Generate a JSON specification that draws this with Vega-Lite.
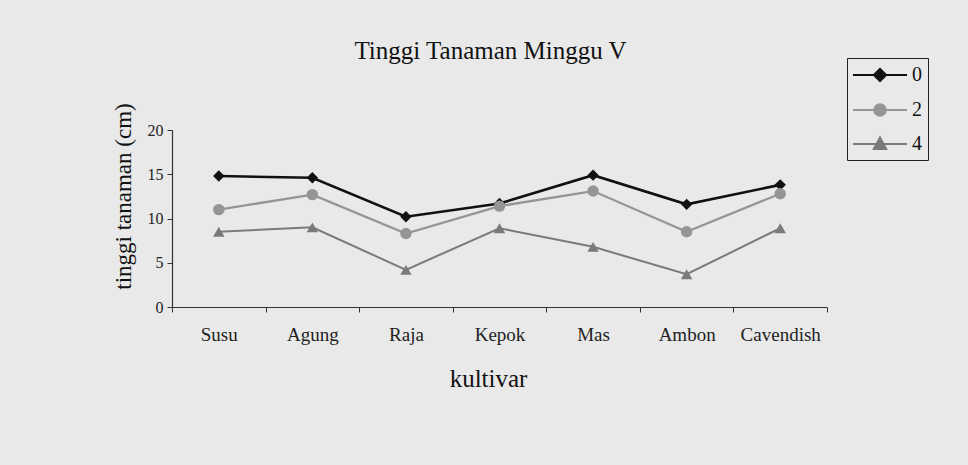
{
  "$schema": "https://vega.github.io/schema/vega-lite/v6.json",
  "autosize": {"type": "none"},
  "width": 655,
  "height": 177,
  "padding": {"left": 172, "top": 130, "right": 141, "bottom": 158},
  "background": "#e9e9e9",
  "config": {
    "view": {"stroke": null},
    "font": "Liberation Serif",
    "axis": {"labelFont": "Liberation Serif", "titleFont": "Liberation Serif", "labelColor": "#222", "titleColor": "#111", "domainColor": "#333", "tickColor": "#333", "grid": false, "titleFontWeight": "normal"}
  },
  "title": {"text": "Tinggi Tanaman Minggu V", "font": "Liberation Serif", "fontSize": 25, "fontWeight": "normal", "color": "#111", "offset": -6, "anchor": "middle", "dx": -9},
  "data": {"values": [
    {"kultivar": "Susu", "series": "0", "value": 14.8},
    {"kultivar": "Agung", "series": "0", "value": 14.6},
    {"kultivar": "Raja", "series": "0", "value": 10.2},
    {"kultivar": "Kepok", "series": "0", "value": 11.7},
    {"kultivar": "Mas", "series": "0", "value": 14.9},
    {"kultivar": "Ambon", "series": "0", "value": 11.6},
    {"kultivar": "Cavendish", "series": "0", "value": 13.8},
    {"kultivar": "Susu", "series": "2", "value": 11.0},
    {"kultivar": "Agung", "series": "2", "value": 12.7},
    {"kultivar": "Raja", "series": "2", "value": 8.3},
    {"kultivar": "Kepok", "series": "2", "value": 11.4},
    {"kultivar": "Mas", "series": "2", "value": 13.1},
    {"kultivar": "Ambon", "series": "2", "value": 8.5},
    {"kultivar": "Cavendish", "series": "2", "value": 12.8},
    {"kultivar": "Susu", "series": "4", "value": 8.5},
    {"kultivar": "Agung", "series": "4", "value": 9.0},
    {"kultivar": "Raja", "series": "4", "value": 4.2},
    {"kultivar": "Kepok", "series": "4", "value": 8.9},
    {"kultivar": "Mas", "series": "4", "value": 6.8},
    {"kultivar": "Ambon", "series": "4", "value": 3.7},
    {"kultivar": "Cavendish", "series": "4", "value": 8.9}
  ]},
  "encoding": {
    "x": {"field": "kultivar", "type": "nominal", "sort": ["Susu", "Agung", "Raja", "Kepok", "Mas", "Ambon", "Cavendish"],
      "scale": {"paddingInner": 0, "paddingOuter": 0},
      "axis": {"title": "kultivar", "labelAngle": 0, "labelFontSize": 19, "titleFontSize": 25, "labelPadding": 13, "titlePadding": 22, "titleX": 316, "tickBand": "extent", "tickSize": 5, "domainWidth": 1.2}},
    "y": {"field": "value", "type": "quantitative", "scale": {"domain": [0, 20]},
      "axis": {"title": "tinggi tanaman (cm)", "values": [0, 5, 10, 15, 20], "labelFontSize": 16, "titleFontSize": 23, "titlePadding": 12, "titleY": 66, "tickSize": 5, "labelPadding": 4, "domainWidth": 1.2}}
  },
  "resolve": {"scale": {"shape": "independent", "fill": "independent", "stroke": "independent"}, "legend": {"shape": "independent", "fill": "independent", "stroke": "independent"}},
  "layer": [
    {"mark": {"type": "line"},
     "encoding": {
       "color": {"field": "series", "type": "nominal", "scale": {"domain": ["0", "2", "4"], "range": ["#111111", "#959595", "#7a7a7a"]}, "legend": null},
       "strokeWidth": {"field": "series", "type": "nominal", "scale": {"domain": ["0", "2", "4"], "range": [2.6, 2, 2]}, "legend": null}}},
    {"mark": {"type": "point", "filled": true, "opacity": 1, "size": 130},
     "encoding": {
       "color": {"field": "series", "type": "nominal", "legend": null},
       "shape": {"field": "series", "type": "nominal", "scale": {"domain": ["0", "2", "4"], "range": ["diamond", "circle", "triangle-up"]}, "legend": null}}},
    {"transform": [{"filter": "datum.value < 0"}],
     "mark": {"type": "point", "opacity": 1, "strokeWidth": 2},
     "encoding": {
       "fill": {"field": "series", "type": "nominal", "scale": {"domain": ["0", "2", "4"], "range": ["#111111", "#959595", "#7a7a7a"]},
        "legend": {"title": null, "orient": "none", "legendX": 675, "legendY": -72}},
       "stroke": {"field": "series", "type": "nominal", "scale": {"domain": ["0", "2", "4"], "range": ["#111111", "#959595", "#7a7a7a"]},
        "legend": {"title": null, "orient": "none", "legendX": 675, "legendY": -72}},
       "shape": {"field": "series", "type": "nominal",
        "scale": {"domain": ["0", "2", "4"], "range": [
          "M-2.7,0H2.7M-0.62,0L0,-0.62L0.62,0L0,0.62Z",
          "M-2.7,0H2.7M-0.58,0A0.58,0.58,0,1,1,0.58,0A0.58,0.58,0,1,1,-0.58,0Z",
          "M-2.7,0H2.7M-0.62,0.5L0,-0.65L0.62,0.5Z"]},
        "legend": {"title": null, "orient": "none", "legendX": 675, "legendY": -72, "strokeColor": "#222", "padding": 6, "labelFontSize": 20, "labelFont": "Liberation Serif", "labelColor": "#111", "symbolSize": 400, "symbolOffset": 16, "labelOffset": 21, "rowPadding": 13, "symbolStrokeWidth": 2, "labelExpr": "datum.label + ' '"}}}}
  ]
}
